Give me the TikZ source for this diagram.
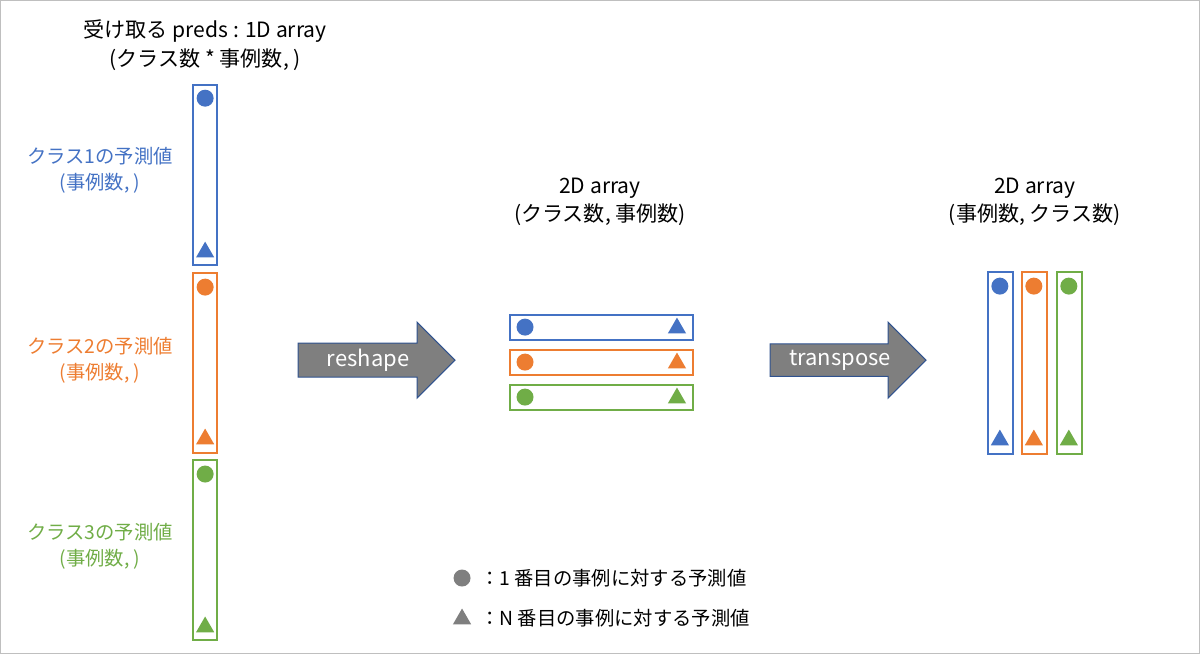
\documentclass[tikz,border=0pt]{standalone}
\usepackage{fontspec}
\setmainfont{Noto Sans CJK JP}
\usetikzlibrary{shapes.geometric,shapes.arrows}
\definecolor{cb}{HTML}{4472C4}
\definecolor{co}{HTML}{ED7D31}
\definecolor{cg}{HTML}{70AD47}
\definecolor{cgr}{HTML}{7F7F7F}
\definecolor{cab}{HTML}{2F528F}
\begin{document}
\begin{tikzpicture}[x=0.02cm,y=-0.02cm,
  box/.style={draw=#1,line width=1pt,inner sep=0pt,fill=white},
  dot/.style={circle,fill=#1,inner sep=0pt,minimum size=0.34cm},
  tri/.style={regular polygon,regular polygon sides=3,fill=#1,inner sep=0pt,minimum size=0.42cm},
  lbl/.style={text=#1,font=\fontsize{11}{15}\selectfont,align=center},
  ttl/.style={font=\fontsize{12}{16}\selectfont,align=center},
  barrow/.style={single arrow,fill=cgr,draw=cab,line width=0.6pt,text=white,font=\fontsize{12.5}{14}\selectfont,single arrow head extend=0.38cm,minimum height=#1,minimum width=1.52cm,inner sep=2pt}]
\draw[draw=black!25,line width=0.8pt] (0.5,0.5) rectangle (1199.5,653.5);
\node[ttl] (t1) at (205,45) {受け取る preds : 1D array\\(クラス数 * 事例数, )};
% left column
\foreach \c/\ya/\yb/\n in {cb/85/265/1,co/273/453/2,cg/460/640/3}{
  \draw[box=\c] (193,\ya) rectangle (217,\yb);
}
\node[dot=cb] (l1c) at (205,98) {}; \node[tri=cb] (l1t) at (205,252) {};
\node[dot=co] (l2c) at (205,287) {}; \node[tri=co] (l2t) at (205,439) {};
\node[dot=cg] (l3c) at (205,474) {}; \node[tri=cg] (l3t) at (205,627) {};
\node[lbl=cb] (L1) at (100,170) {クラス1の予測値\\(事例数, )};
\node[lbl=co] (L2) at (100,360) {クラス2の予測値\\(事例数, )};
\node[lbl=cg] (L3) at (100,546) {クラス3の予測値\\(事例数, )};
% arrows
\node[barrow=3.14cm] (a1) at (368,360) {reshape\hspace{0.5cm}};
\node[barrow=3.12cm] (a2) at (840,360) {transpose\hspace{0.4cm}};
% middle
\node[ttl] (t2) at (600,202) {2D array\\(クラス数, 事例数)};
\draw[box=cb] (510,315) rectangle (693,340);
\draw[box=co] (510,350) rectangle (693,375);
\draw[box=cg] (510,385) rectangle (693,410);
\node[dot=cb] (m1c) at (525,327) {}; \node[tri=cb] (m1t) at (677,328) {};
\node[dot=co] (m2c) at (525,362) {}; \node[tri=co] (m2t) at (677,363) {};
\node[dot=cg] (m3c) at (525,397) {}; \node[tri=cg] (m3t) at (677,398) {};
% right
\node[ttl] (t3) at (1035,202) {2D array\\(事例数, クラス数)};
\draw[box=cb] (988,272) rectangle (1013,454);
\draw[box=co] (1022,272) rectangle (1047,454);
\draw[box=cg] (1057,272) rectangle (1082,454);
\node[dot=cb] (r1c) at (1000,286) {}; \node[tri=cb] (r1t) at (1000,440) {};
\node[dot=co] (r2c) at (1034,286) {}; \node[tri=co] (r2t) at (1034,440) {};
\node[dot=cg] (r3c) at (1069,286) {}; \node[tri=cg] (r3t) at (1069,440) {};
% legend
\node[dot=cgr] (g1) at (462,578) {};
\node[tri=cgr] (g2) at (462,619) {};
\node[anchor=west,font=\fontsize{11}{13}\selectfont] (g1t) at (474,578) {：1 番目の事例に対する予測値};
\node[anchor=west,font=\fontsize{11}{13}\selectfont] (g2t) at (474,618) {：N 番目の事例に対する予測値};
\end{tikzpicture}
\end{document}
